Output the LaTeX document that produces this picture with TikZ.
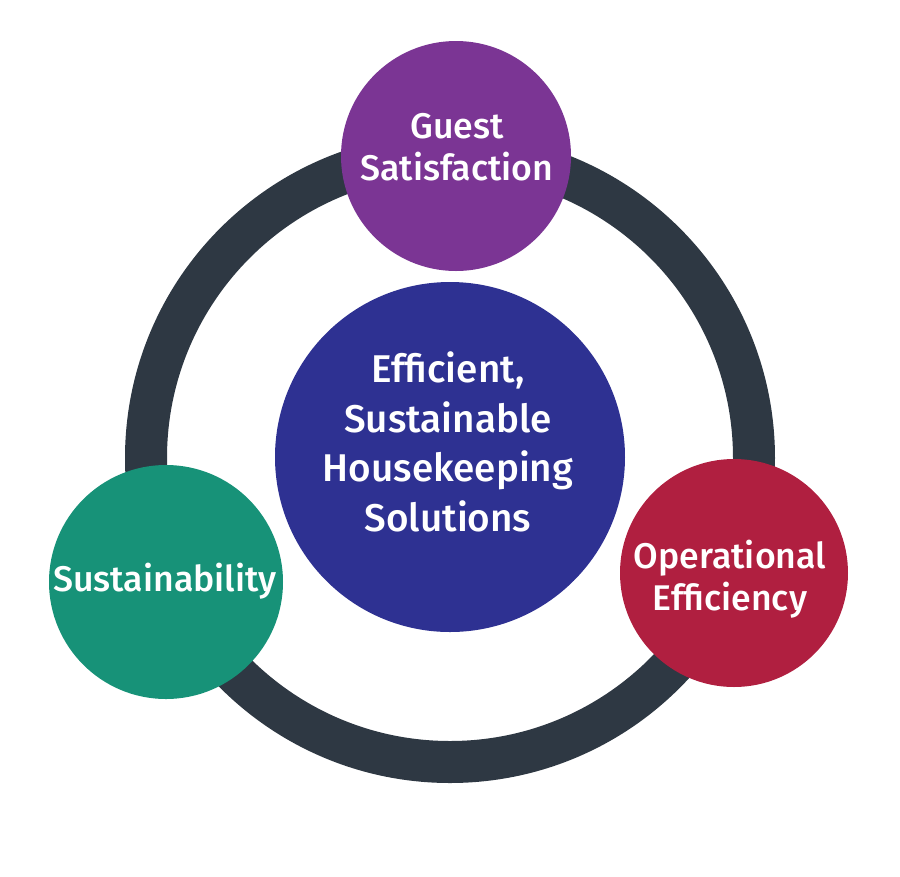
\documentclass[tikz,border=0pt]{standalone}
\usepackage{fontspec}
\setmainfont{Fira Sans}[BoldFont={Fira Sans Medium}]
\usepackage{xcolor}
\usepackage{tikz}
\usetikzlibrary{positioning}
\definecolor{ringgrey}{HTML}{2E3843}
\definecolor{hubblue}{HTML}{2E3192}
\definecolor{guestpurple}{HTML}{7B3594}
\definecolor{sustgreen}{HTML}{179278}
\definecolor{opsred}{HTML}{B01F40}

\begin{document}
\begin{tikzpicture}[
  ring/.style={draw=ringgrey, line width=0.84cm},
  disc/.style={circle, inner sep=0pt},
  hublabel/.style={text=white, align=center, font=\fontsize{22pt}{28.2pt}\selectfont\bfseries},
  sidelabel/.style={text=white, align=center, font=\fontsize{20.3pt}{24pt}\selectfont\bfseries}
]
  \useasboundingbox (0,0) rectangle (18,-17.54);

  \coordinate (mid) at (9,-9.16);
  \draw[ring] (mid) circle (6.08cm);

  \node[disc, fill=hubblue, minimum size=7cm] (hub) at (9,-9.14) {};
  \node[disc, fill=guestpurple, minimum size=4.6cm] (guest) at (9.12,-3.12) {};
  \node[disc, fill=sustgreen, minimum size=4.68cm] (sust) at (3.32,-11.64) {};
  \node[disc, fill=opsred, minimum size=4.56cm] (ops) at (14.68,-11.46) {};

  \node[hublabel] (hubtext) at (8.96,-8.84) {Efficient,\\Sustainable\\Housekeeping\\Solutions};
  \node[sidelabel] (guesttext) at (9.14,-2.94) {Guest\\Satisfaction};
  \node[sidelabel] (susttext) at (3.30,-11.62) {Sustainability};
  \node[sidelabel] (opstext) at (14.60,-11.58) {Operational\\Efficiency};
\end{tikzpicture}
\end{document}
